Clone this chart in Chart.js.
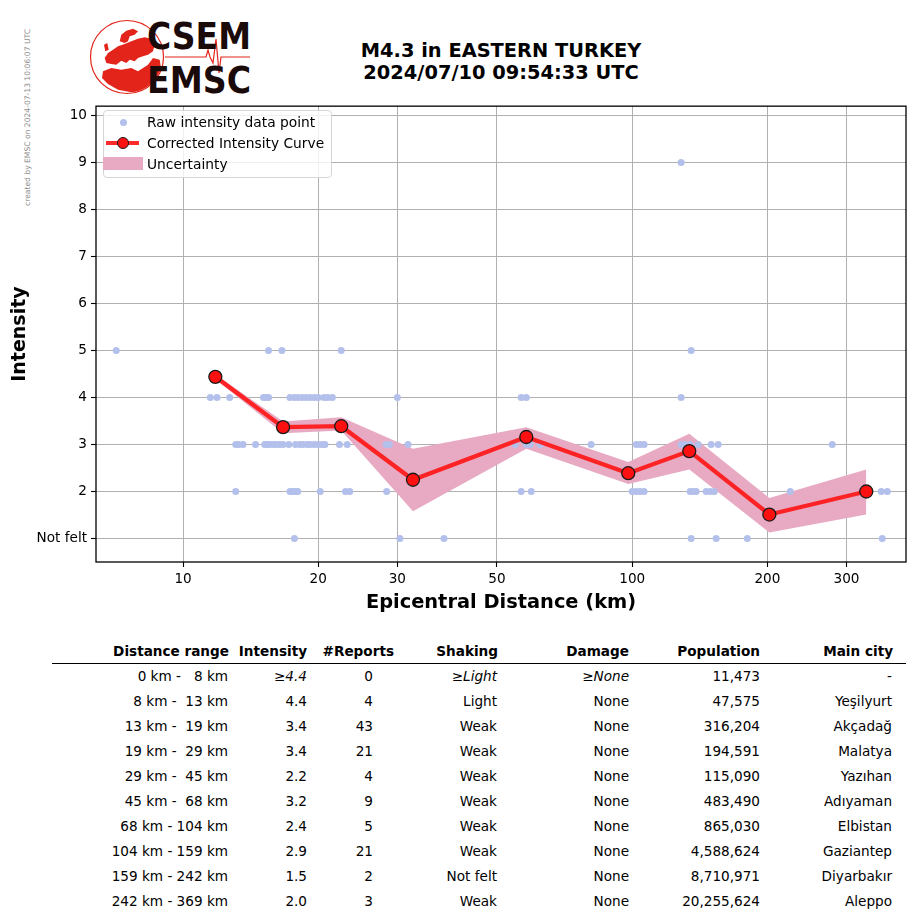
<!DOCTYPE html>
<html>
<head>
<meta charset="utf-8">
<script src="https://cdn.jsdelivr.net/npm/chart.js@4.4.1/dist/chart.umd.min.js"></script>
<style>
  html,body{margin:0;padding:0;background:#fff;}
  body{width:915px;height:924px;position:relative;overflow:hidden;font-family:"DejaVu Sans",sans-serif;color:#000;}
  .abs{position:absolute;white-space:pre;}
  #chartWrap{position:absolute;left:0;top:94px;width:915px;height:530px;}
  .cell{position:absolute;white-space:pre;font-size:13.6px;line-height:16px;text-align:right;}
  .hdr{font-weight:bold;}
</style>
</head>
<body>
<script>
// ---------------- DATA ----------------
// Corrected intensity curve (distance km, intensity)
const curveDist  = [11.8, 16.7, 22.5, 32.5, 58.1, 98.0, 134.0, 202.0, 332.0];
const curveInt   = [4.44, 3.37, 3.39, 2.25, 3.16, 2.39, 2.86, 1.51, 2.00];
const bandUpper  = [4.49, 3.49, 3.58, 2.91, 3.37, 2.63, 3.23, 1.86, 2.47];
const bandLower  = [4.39, 3.24, 3.30, 1.58, 2.91, 2.16, 2.47, 1.13, 1.51];

// Raw intensity data points, grouped by intensity level (distances in km)
const raw9 = [128.5];
const raw5 = [7.1, 15.5, 16.6, 22.5, 135.3];
const raw4 = [11.5, 11.9, 12.7, 15.1, 15.3, 15.5, 17.3, 17.7, 18.0, 18.4, 18.8, 19.2, 19.6, 20.0, 20.6, 21.0, 21.5, 30.0, 56.6, 58.1, 128.5];
const raw3 = [13.1, 13.3, 13.6, 14.5, 15.2, 15.4, 15.6, 15.9, 16.1, 16.4, 16.7, 17.2, 17.8, 18.2, 18.5, 18.9, 19.2, 19.6, 20.0, 20.4, 20.7, 22.3, 23.2, 28.3, 28.8, 31.7, 54.9, 58.1, 59.3, 62.4, 81.0, 102.1, 104.2, 106.3, 128.5, 131.2, 134.6, 140.3, 149.9, 155.4, 278.9];
const raw2 = [13.1, 17.3, 17.5, 17.7, 17.9, 18.0, 20.2, 23.0, 23.5, 28.4, 56.6, 59.6, 100.0, 102.1, 104.2, 106.3, 134.6, 136.8, 138.8, 146.1, 149.2, 152.3, 224.9, 358.5, 369.8];
const raw1 = [17.7, 30.4, 38.1, 135.3, 153.8, 180.4, 360.4];

// Axis ticks
const xTicks = [10, 20, 30, 50, 100, 200, 300];
const yTicks = [1, 2, 3, 4, 5, 6, 7, 8, 9, 10];
const yTickLabels = ["Not felt", "2", "3", "4", "5", "6", "7", "8", "9", "10"];

// Table
const tblHeaders  = ["Distance range", "Intensity", "#Reports", "Shaking", "Damage", "Population", "Main city"];
const distLo      = [0, 8, 13, 19, 29, 45, 68, 104, 159, 242];
const distHi      = [8, 13, 19, 29, 45, 68, 104, 159, 242, 369];
const tblIntensity= ["≥4.4", "4.4", "3.4", "3.4", "2.2", "3.2", "2.4", "2.9", "1.5", "2.0"];
const tblReports  = [0, 4, 43, 21, 4, 9, 5, 21, 2, 3];
const tblShaking  = ["≥Light", "Light", "Weak", "Weak", "Weak", "Weak", "Weak", "Weak", "Not felt", "Weak"];
const tblDamage   = ["≥None", "None", "None", "None", "None", "None", "None", "None", "None", "None"];
const tblPop      = ["11,473", "47,575", "316,204", "194,591", "115,090", "483,490", "865,030", "4,588,624", "8,710,971", "20,255,624"];
const tblCity     = ["-", "Yeşilyurt", "Akçadağ", "Malatya", "Yazıhan", "Adıyaman", "Elbistan", "Gaziantep", "Diyarbakır", "Aleppo"];
</script>

<!-- side note -->
<div class="abs" style="left:28px;top:10px;font-size:7.6px;color:#8c8c8c;transform-origin:0 0;transform:translate(-5px,196px) rotate(-90deg);">created by EMSC on 2024-07-13 10:06:07 UTC</div>

<!-- logo -->
<svg width="260" height="100" style="position:absolute;left:0;top:0">
  <defs><clipPath id="cc"><circle cx="127" cy="57" r="36"/></clipPath></defs>
  <circle cx="127" cy="57" r="36.5" fill="none" stroke="#e3241b" stroke-width="1.2"/>
  <g clip-path="url(#cc)" fill="#e3241b">
    <path d="M119.7,41.3 L121.3,34.7 L126.3,30.7 L133,28.7 L138,31.3 L134.7,34.7 L129.7,36.3 L128,41.3 L124.7,43 Z"/>
    <path d="M108,53 L113,49.7 L118,46.3 L124.7,44 L131.3,41.3 L138,38.7 L144.7,37.3 L151.3,38.7 L154.7,44.7 L153,51.3 L148,54.7 L143,56.3 L138,58 L134.7,61.3 L129.7,59.7 L126.3,63 L121.3,60.7 L116.3,64.7 L111.3,64 L106.3,63 L104.7,58 Z"/>
    <path d="M103,71.3 L111.3,68 L121.3,69.7 L131.3,68 L138,71.3 L143,68 L148,64.7 L153,58 L159.7,59.7 L162,74.7 L156,84.7 L144.7,90.7 L131.3,92.3 L118,89.7 L108,84 L102,78 Z"/>
    <path d="M104,44.7 L107.3,43 L108.7,49.7 L105.3,51.3 Z"/>
  </g>
  <polyline points="165,57 206,57 208,50 210,57 213,63 216,39 219,73 221,57 250,57" fill="none" stroke="#e3241b" stroke-width="1.2"/>
  <text x="147" y="49" font-family="DejaVu Sans" font-weight="bold" font-size="37" textLength="104" lengthAdjust="spacingAndGlyphs" fill="#1a0a0a">CSEM</text>
  <text x="147" y="93" font-family="DejaVu Sans" font-weight="bold" font-size="37" textLength="104" lengthAdjust="spacingAndGlyphs" fill="#1a0a0a">EMSC</text>
</svg>

<!-- title -->
<div class="abs" style="left:300px;width:402px;top:40px;text-align:center;font-weight:bold;font-size:19.4px;line-height:22px;">M4.3 in EASTERN TURKEY
2024/07/10 09:54:33 UTC</div>

<div id="chartWrap"><canvas id="c" width="915" height="530"></canvas></div>

<!-- legend -->
<div id="legend" style="position:absolute;left:103px;top:110px;width:227px;height:66px;border:1px solid #d6d6d6;border-radius:4px;background:rgba(255,255,255,0.8);">
  <div style="position:absolute;left:16px;top:8px;width:7px;height:7px;border-radius:50%;background:#b3c0eb;"></div>
  <div class="abs" style="left:43px;top:3px;font-size:13.8px;line-height:17px;">Raw intensity data point</div>
  <div style="position:absolute;left:2px;top:30px;width:33px;height:4px;background:#ff2a2a;"></div>
  <div style="position:absolute;left:13px;top:26px;width:10px;height:10px;border-radius:50%;background:#ff1010;border:1.3px solid #1a1a1a;"></div>
  <div class="abs" style="left:43px;top:24px;font-size:13.8px;line-height:17px;">Corrected Intensity Curve</div>
  <div style="position:absolute;left:-1px;top:46px;width:40px;height:13px;background:#e8aac3;"></div>
  <div class="abs" style="left:43px;top:45px;font-size:13.8px;line-height:17px;">Uncertainty</div>
</div>

<div id="table"></div>

<script>
function toPts(d, v) { return d.map(x => ({x: x, y: v})); }
function zipPts(d, v) { return d.map((x, i) => ({x: x, y: v[i]})); }

const rawPoints = [].concat(
  toPts(raw9, 9), toPts(raw5, 5), toPts(raw4, 4),
  toPts(raw3, 3), toPts(raw2, 2), toPts(raw1, 1)
);

Chart.defaults.font.family = "DejaVu Sans";
Chart.defaults.font.size = 13.8;
Chart.defaults.color = "#000";

const spines = {
  id: 'spines',
  afterDraw(chart) {
    const a = chart.chartArea, ctx = chart.ctx;
    ctx.save();
    ctx.strokeStyle = '#000';
    ctx.lineWidth = 1.3;
    ctx.strokeRect(a.left, a.top, a.right - a.left, a.bottom - a.top);
    ctx.restore();
  }
};

new Chart(document.getElementById('c'), {
  type: 'line',
  data: {
    datasets: [
      {
        label: 'Corrected Intensity Curve',
        data: zipPts(curveDist, curveInt),
        borderColor: 'rgba(255,20,20,0.9)',
        borderWidth: 4.3,
        pointRadius: 6.5,
        pointBackgroundColor: '#ff1010',
        pointBorderColor: '#1a1a1a',
        pointBorderWidth: 1.3,
        fill: false,
        tension: 0,
        order: 0
      },
      {
        type: 'scatter',
        label: 'Raw intensity data point',
        data: rawPoints,
        pointRadius: 3.5,
        backgroundColor: '#b3c0eb',
        borderWidth: 0,
        order: 1
      },
      {
        label: 'Uncertainty',
        data: zipPts(curveDist, bandUpper),
        borderWidth: 0,
        pointRadius: 0,
        backgroundColor: '#e8aac3',
        fill: '+1',
        tension: 0,
        order: 2
      },
      {
        label: 'lower',
        data: zipPts(curveDist, bandLower),
        borderWidth: 0,
        pointRadius: 0,
        fill: false,
        tension: 0,
        order: 3
      }
    ]
  },
  options: {
    responsive: false,
    animation: false,
    events: [],
    layout: { padding: { top: 9, right: 9, left: 0, bottom: 0 } },
    plugins: { legend: { display: false }, tooltip: { enabled: false } },
    scales: {
      x: {
        type: 'logarithmic',
        min: 6.4,
        max: 407,
        afterBuildTicks: s => { s.ticks = xTicks.map(v => ({value: v})); },
        afterFit: s => { s.height = 62; },
        ticks: { callback: v => String(v), padding: 4, maxRotation: 0, autoSkip: false, font: { size: 13.6 } },
        grid: { color: '#b0b0b0', lineWidth: 1, tickLength: 5, tickColor: '#000', tickWidth: 1.1 },
        border: { display: false },
        title: { display: true, text: 'Epicentral Distance (km)', font: { size: 19.4, weight: 'bold' }, padding: { top: 0, bottom: 9 } }
      },
      y: {
        type: 'linear',
        min: 0.5,
        max: 10.2,
        afterBuildTicks: s => { s.ticks = yTicks.map(v => ({value: v})); },
        afterFit: s => { s.width = 96; },
        ticks: { callback: v => yTickLabels[yTicks.indexOf(v)], padding: 4, autoSkip: false, font: { size: 13.6 } },
        grid: { color: '#b0b0b0', lineWidth: 1, tickLength: 5, tickColor: '#000', tickWidth: 1.1 },
        border: { display: false },
        title: { display: true, text: 'Intensity', font: { size: 19, weight: 'bold' }, padding: { top: 9, bottom: 0 } }
      }
    }
  },
  plugins: [spines]
});

// ---------------- TABLE ----------------
const tbl = document.getElementById('table');
function cell(text, right, yc, cls, italic) {
  const d = document.createElement('div');
  d.className = 'cell' + (cls ? ' ' + cls : '');
  d.textContent = text;
  d.style.right = (915 - right) + 'px';
  d.style.top = (yc - 8) + 'px';
  if (italic) d.style.fontStyle = 'italic';
  tbl.appendChild(d);
}
const hdrRight = [229, 307, 394, 498, 629, 760, 893];
const valRight = [228, 307, 373, 497, 629, 760, 892];
tblHeaders.forEach((h, i) => cell(h, hdrRight[i], 651, 'hdr'));
const line = document.createElement('div');
line.style.cssText = 'position:absolute;left:52px;top:663px;width:854px;height:1.4px;background:#000;';
tbl.appendChild(line);
function pad3(n) { const s = String(n); return ' '.repeat(Math.max(0, 3 - s.length)) + s; }
distLo.forEach((lo, i) => {
  const y = 676 + 25 * i;
  const it = i === 0;
  cell(pad3(lo) + ' km - ' + pad3(distHi[i]) + ' km', valRight[0], y);
  cell(tblIntensity[i], valRight[1], y, '', it);
  cell(String(tblReports[i]), valRight[2], y);
  cell(tblShaking[i], valRight[3], y, '', it);
  cell(tblDamage[i], valRight[4], y, '', it);
  cell(tblPop[i], valRight[5], y);
  cell(tblCity[i], valRight[6], y);
});
</script>
</body>
</html>
